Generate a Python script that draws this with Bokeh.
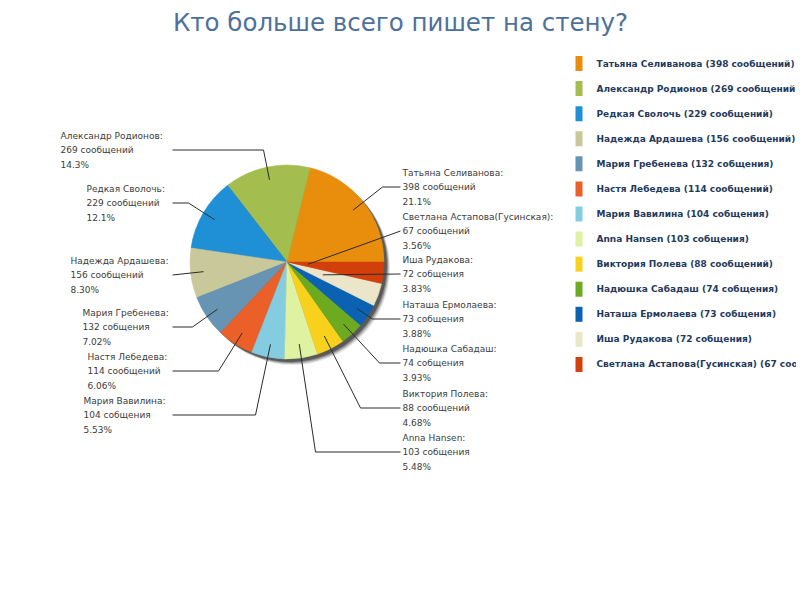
import numpy as np
from bokeh.core.properties import value
from bokeh.embed import file_html
from bokeh.models import Range1d
from bokeh.plotting import figure
from bokeh.resources import INLINE

# Data
names = ["Татьяна Селиванова", "Александр Родионов", "Редкая Сволочь", "Надежда Ардашева",
         "Мария Гребенева", "Настя Лебедева", "Мария Вавилина", "Anna Hansen", "Виктория Полева",
         "Надюшка Сабадаш", "Наташа Ермолаева", "Иша Рудакова", "Светлана Астапова(Гусинская)"]
counts = [398, 269, 229, 156, 132, 114, 104, 103, 88, 74, 73, 72, 67]
units = ["сообщений", "сообщений", "сообщений", "сообщений", "собщения", "сообщений", "собщения",
         "собщения", "сообщений", "собщения", "собщения", "собщения", "сообщений"]
percents = ["21.1%", "14.3%", "12.1%", "8.30%", "7.02%", "6.06%", "5.53%", "5.48%", "4.68%",
            "3.93%", "3.88%", "3.83%", "3.56%"]
colors = ["#E88E0C", "#A3BE4E", "#1F8FD6", "#C9C89B", "#6894B4", "#EB5F28", "#84CDE0",
          "#DEF2A2", "#F8D11C", "#6DAA1F", "#0B62B3", "#EBE6C9", "#D23F0B"]
title = "Кто больше всего пишет на стену?"

# layout of the callout labels: text x, first line y, line start x, elbow x, reach into slice (px)
label_layout = [
    (402, 172, 400, 382, 84),
    (60, 135, 172, 263, 84),
    (86, 188, 172, 188, 84),
    (70, 260, 172, None, 84),
    (82, 312, 172, 192, 84),
    (87, 356, 172, 218, 84),
    (83, 400, 172, 255, 84),
    (402, 437, 400, 315, 83),
    (402, 393, 400, 360, 83),
    (402, 348, 400, 379, 84),
    (402, 304, 400, 372, 84),
    (402, 259, 400, None, 38),
    (402, 216, 400, None, 21),
]

CX, CY, R = 286.5, 261.5, 97
LINE_STEP = 14.5
FONT = value("DejaVu Sans")


def Y(py):
    # page pixels (y down) -> data (y up)
    return -np.asarray(py, dtype=float)


p = figure(width=796, height=588, x_range=Range1d(0, 796), y_range=Range1d(-588, 0),
           output_backend="svg", toolbar_location=None, min_border=0)
p.axis.visible = False
p.grid.visible = False
p.outline_line_color = None
p.background_fill_color = "white"

p.text(x=[400], y=Y([22]), text=[title], text_font=FONT, text_font_size="24.5px",
       text_color="#4E719B", text_align="center", text_baseline="middle")

# pie shadow
for off, alpha in [(6, 0.10), (5, 0.2), (4, 0.3), (3, 0.45)]:
    p.circle(x=[CX + off], y=Y([CY + off]), radius=R, fill_color="#1a1a1a",
             fill_alpha=alpha, line_color=None)

fractions = np.array(counts, dtype=float) / sum(counts)
ends = np.cumsum(fractions) * 2 * np.pi
starts = ends - fractions * 2 * np.pi
p.wedge(x=CX, y=-CY, radius=R, start_angle=starts, end_angle=ends,
        fill_color=colors, line_color=colors, line_width=0.5)

# callouts
xs, ys = [], []
tx, ty, tt = [], [], []
mids = (starts + ends) / 2
for i, (text_x, y1, sx, ex, reach) in enumerate(label_layout):
    ly = y1 + LINE_STEP
    px = CX + reach * np.cos(mids[i])
    py = CY - reach * np.sin(mids[i])
    path_x = [sx] + ([ex] if ex is not None else []) + [px]
    path_y = [ly] + ([ly] if ex is not None else []) + [py]
    xs.append(path_x)
    ys.append(list(Y(path_y)))
    lines = [names[i] + ":", f"{counts[i]} {units[i]}", percents[i]]
    for k, line in enumerate(lines):
        tx.append(text_x)
        ty.append(-(y1 + k * LINE_STEP))
        tt.append(line)

p.multi_line(xs=xs, ys=ys, line_color="#2b2b2b", line_width=1)
p.text(x=tx, y=ty, text=tt, text_font=FONT, text_font_size="9px", text_color="#3c3c3c",
       text_align="left", text_baseline="middle")

# legend
leg_y = 63 + np.arange(len(names)) * 25.08
p.rect(x=[578.5] * len(names), y=Y(leg_y), width=7, height=15, fill_color=colors, line_color=None)
leg_text = [f"{n} ({c} {u})" for n, c, u in zip(names, counts, units)]
p.text(x=[596] * len(names), y=Y(leg_y), text=leg_text, text_font=FONT, text_font_size="9px",
       text_font_style="bold", text_color="#1F3A5C", text_align="left", text_baseline="middle")

open("out.html", "w").write(file_html(p, INLINE))
